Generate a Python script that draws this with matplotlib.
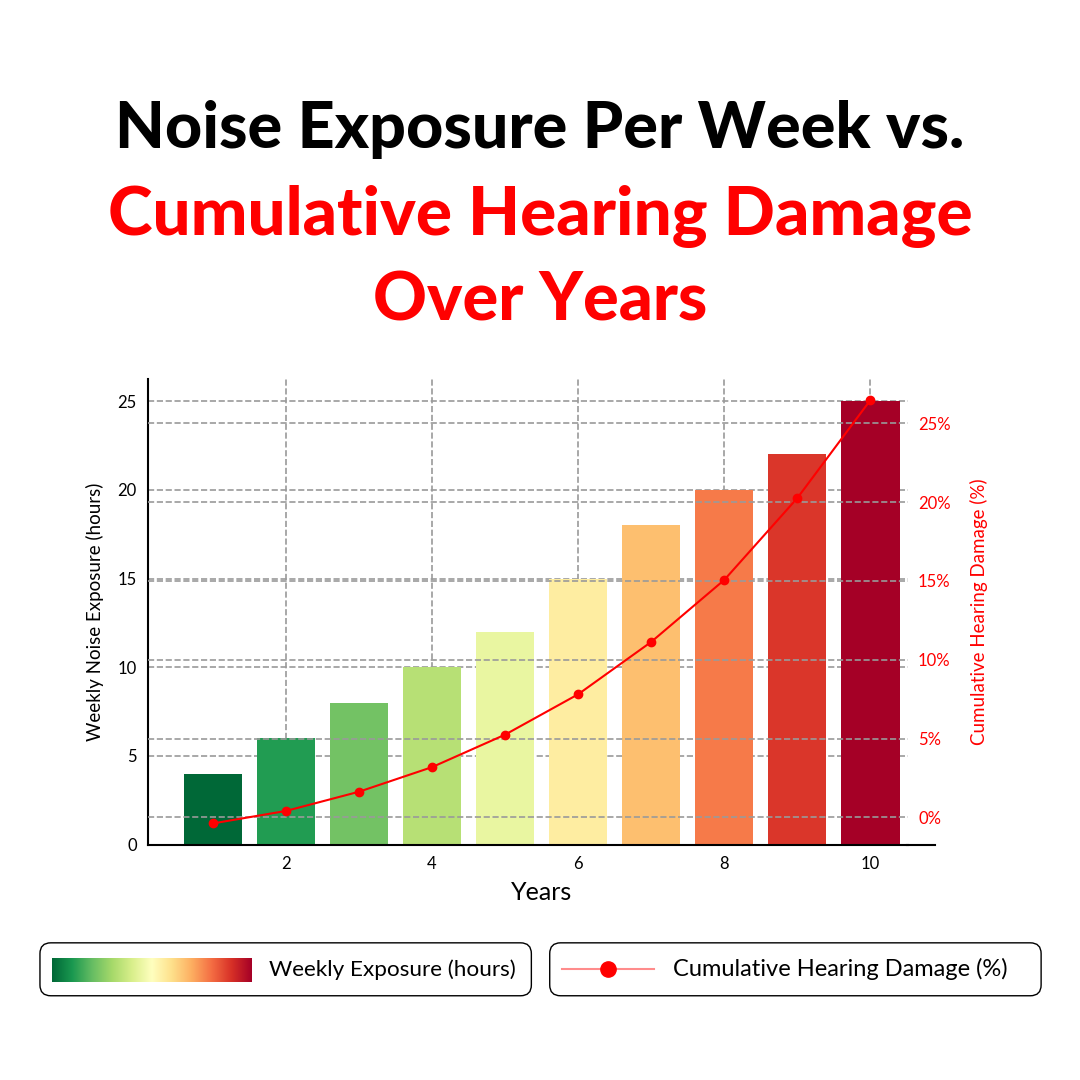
import matplotlib

matplotlib.use("Agg")
import matplotlib.pyplot as plt
import numpy as np
from matplotlib.lines import Line2D
from matplotlib.patches import FancyBboxPatch
from matplotlib.ticker import FuncFormatter

# ---------------------------------------------------------------------------
# Data
# ---------------------------------------------------------------------------
years = [1, 2, 3, 4, 5, 6, 7, 8, 9, 10]
weekly_hours = [4, 6, 8, 10, 12, 15, 18, 20, 22, 25]
damage_pct = [-0.38, 0.41, 1.63, 3.19, 5.25, 7.81, 11.13, 15.06, 20.25, 26.46]
x_ticks = [2, 4, 6, 8, 10]
y_ticks = [0, 5, 10, 15, 20, 25]
pct_ticks = [0, 5, 10, 15, 20, 25]

RED = "#ff0000"
GRID = "#9a9a9a"
FONT = ["Lato", "DejaVu Sans"]

plt.rcParams["font.family"] = FONT

fig = plt.figure(figsize=(10.8, 10.8), dpi=100)

# ---- Title ---------------------------------------------------------------
fig.text(0.5, 0.880, "Noise Exposure Per Week vs.", ha="center", va="center",
         fontsize=46.5, fontweight="black", color="black")
fig.text(0.5, 0.800, "Cumulative Hearing Damage", ha="center", va="center",
         fontsize=48.5, fontweight="black", color=RED)
fig.text(0.5, 0.721, "Over Years", ha="center", va="center",
         fontsize=48, fontweight="black", color=RED)

# ---- Main axes -----------------------------------------------------------
ax = fig.add_axes([0.137, 0.218, 0.704, 0.431])
cmap = plt.get_cmap("RdYlGn_r")
colors = [cmap(i / (len(years) - 1)) for i in range(len(years))]
ax.bar(years, weekly_hours, width=0.8, color=colors, zorder=2)
ax.set_xlim(0.11, 10.52)

ax.set_xticks(x_ticks)
ax.set_yticks(y_ticks)
ax.tick_params(axis="both", length=0, labelsize=12, pad=8)
ax.set_ylabel("Weekly Noise Exposure (hours)", fontsize=13.5, labelpad=10)
ax.grid(True, linestyle="--", color=GRID, linewidth=1.2, zorder=0)
ax.set_axisbelow(True)
for side in ("top", "right"):
    ax.spines[side].set_visible(False)
ax.spines["left"].set_linewidth(1.5)
ax.spines["bottom"].set_linewidth(1.5)

# bottom spine runs a little past the plotting area
fig.add_artist(Line2D([0.84, 0.866], [0.218, 0.218], transform=fig.transFigure,
                      color="black", linewidth=1.5))
fig.text(0.501, 0.174, "Years", ha="center", va="center", fontsize=18)

# ---- Twin axis for damage ------------------------------------------------
ax2 = ax.twinx()
ax2.plot(years, damage_pct, color=RED, linewidth=1.5, marker="o",
         markersize=6, zorder=3)
ax2.set_yticks(pct_ticks)
ax2.yaxis.set_major_formatter(FuncFormatter(lambda v, _: f"{v:.0f}%"))
ax2.tick_params(axis="y", length=0, labelsize=12, labelcolor=RED, pad=7)
ax2.set_ylabel("Cumulative Hearing Damage (%)", fontsize=13.5, color=RED, labelpad=14)
ax2.grid(True, linestyle="--", color=GRID, linewidth=1.2)
for side in ("top", "right", "left", "bottom"):
    ax2.spines[side].set_visible(False)

# ---- Legend boxes ----------------------------------------------------------
for x0 in (0.037, 0.509):
    box = FancyBboxPatch((x0, 0.078), 0.455, 0.049,
                         boxstyle="round,pad=0,rounding_size=0.01",
                         transform=fig.transFigure, facecolor="white",
                         edgecolor="black", linewidth=1.0, zorder=0)
    fig.patches.append(box)

cax = fig.add_axes([0.048, 0.091, 0.185, 0.022], zorder=5)
cax.imshow(np.linspace(0, 1, 256)[None, :], aspect="auto", cmap=cmap)
cax.set_axis_off()
fig.text(0.249, 0.1025, "Weekly Exposure (hours)", ha="left", va="center", fontsize=16.2)

fig.add_artist(Line2D([0.52, 0.606], [0.1025, 0.1025], transform=fig.transFigure,
                      color=RED, alpha=0.45, linewidth=1.5))
fig.add_artist(Line2D([0.563], [0.1025], transform=fig.transFigure, color=RED,
                      marker="o", markersize=11, linestyle="none"))
fig.text(0.623, 0.1025, "Cumulative Hearing Damage (%)", ha="left", va="center", fontsize=17)

fig.savefig("out.png", dpi=100, facecolor="white")
